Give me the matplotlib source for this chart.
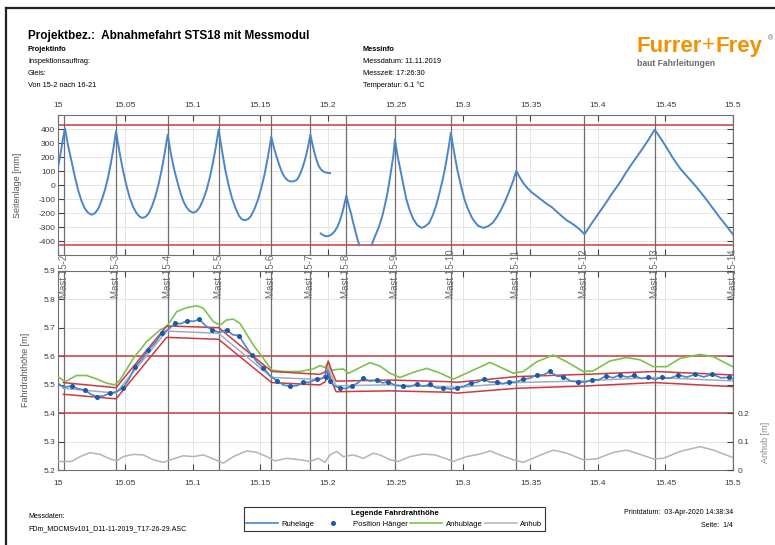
"""
Fahrdrahtmessung: Seitenlage und Fahrdrahthoehe, Abnahmefahrt STS18.
"""

import matplotlib

matplotlib.use("Agg")
import matplotlib.pyplot as plt
import numpy as np
from matplotlib.lines import Line2D

plt.rcParams["font.family"] = ["Liberation Sans", "DejaVu Sans"]
plt.rcParams["axes.unicode_minus"] = False

nan = np.nan

# --- data -------------------------------------------------------------------
km_ticks = [15.0, 15.05, 15.1, 15.15, 15.2, 15.25, 15.3, 15.35, 15.4, 15.45, 15.5]
km_labels = ["15", "15.05", "15.1", "15.15", "15.2", "15.25", "15.3", "15.35",
             "15.4", "15.45", "15.5"]

mast_km = [15.0047, 15.043, 15.0813, 15.119, 15.158, 15.187, 15.213, 15.250,
           15.291, 15.3395, 15.390, 15.442, 15.500]
mast_names = ["Mast 15-2", "Mast 15-3", "Mast 15-4", "Mast 15-5", "Mast 15-6",
              "Mast 15-7", "Mast 15-8", "Mast 15-9", "Mast 15-10", "Mast 15-11",
              "Mast 15-12", "Mast 15-13", "Mast 15-14"]

# Seitenlage [mm], nan = Messluecke
seite_km = [
    15.000, 15.002, 15.0035, 15.0052, 15.0075, 15.010, 15.0125, 15.015, 15.0175,
    15.020, 15.0225, 15.025, 15.0275, 15.030, 15.0325, 15.035, 15.037, 15.039,
    15.041, 15.043,
    15.0455, 15.048, 15.0505, 15.053, 15.0555, 15.058, 15.0605, 15.0627, 15.065,
    15.067, 15.0695, 15.072, 15.0745, 15.077, 15.079, 15.0813,
    15.0835, 15.086, 15.0885, 15.091, 15.093, 15.095, 15.0975, 15.1002, 15.1025,
    15.105, 15.1075, 15.110, 15.1125, 15.115, 15.117, 15.119,
    15.1215, 15.124, 15.1265, 15.129, 15.1315, 15.134, 15.136, 15.1385, 15.141,
    15.143, 15.1455, 15.148, 15.1505, 15.153, 15.1555, 15.158,
    15.160, 15.162, 15.164, 15.166, 15.168, 15.170, 15.1715, 15.173, 15.175,
    15.177, 15.179, 15.181, 15.1825, 15.184, 15.1855, 15.187,
    15.1885, 15.190, 15.1915, 15.193, 15.1945, 15.196, 15.1975, 15.199, 15.2015,
    nan,
    15.1946, 15.1965, 15.198, 15.1995, 15.201, 15.203, 15.205, 15.207, 15.209,
    15.211, 15.2136, 15.2155, 15.217, 15.2185, 15.220, 15.2215, 15.2232,
    nan,
    15.2323, 15.234, 15.236, 15.238, 15.240, 15.242, 15.244, 15.2455, 15.247,
    15.2485, 15.2496,
    15.2515, 15.254, 15.256, 15.258, 15.2605, 15.263, 15.266, 15.2694, 15.272,
    15.275, 15.2775, 15.280, 15.2825, 15.285, 15.2865, 15.288, 15.2895, 15.291,
    15.2935, 15.296, 15.2985, 15.301, 15.304, 15.307, 15.311, 15.315, 15.3185,
    15.322, 15.325, 15.328, 15.331, 15.334, 15.337, 15.3395,
    15.342, 15.345, 15.348, 15.3509, 15.356, 15.362, 15.366, 15.370, 15.3735,
    15.3768, 15.380, 15.383, 15.3865, 15.390,
    15.3935, 15.397, 15.401, 15.405, 15.4105, 15.4163, 15.4205, 15.425, 15.429,
    15.433, 15.4375, 15.442,
    15.446, 15.450, 15.455, 15.4607, 15.467, 15.4731, 15.480, 15.485, 15.490,
    15.495, 15.4998,
]
seite_mm = [
    120, 230, 320, 405, 280, 172, 60, -39, -115,
    -169, -200, -212, -200, -166, -105, -27, 50, 146,
    255, 384,
    240, 112, 5, -86, -152, -198, -226, -235, -226,
    -205, -155, -86, 5, 117, 225, 360,
    230, 114, 20, -64, -118, -156, -185, -198, -188,
    -159, -105, -38, 55, 170, 275, 395,
    245, 105, -5, -97, -165, -218, -243, -252, -242,
    -220, -172, -109, -25, 75, 200, 343,
    265, 200, 140, 90, 55, 35, 27, 25, 28,
    38, 70, 120, 165, 220, 285, 360,
    290, 230, 180, 140, 115, 100, 92, 88, 85,
    nan,
    -346, -358, -365, -366, -362, -350, -330, -298, -250,
    -185, -75, -150, -200, -262, -320, -375, -430,
    nan,
    -430, -385, -340, -290, -230, -150, -60, 25, 120,
    215, 325,
    210, 90, -10, -100, -180, -240, -285, -306, -295,
    -270, -218, -150, -60, 40, 110, 190, 275, 372,
    230, 100, -5, -100, -180, -240, -290, -306, -295,
    -270, -230, -180, -120, -50, 25, 101,
    55, 10, -25, -52, -90, -134, -160, -195, -225,
    -252, -270, -290, -318, -351,
    -300, -250, -195, -140, -60, 19, 85, 150, 205,
    260, 325, 395,
    340, 280, 200, 120, 50, -16, -100, -165, -230,
    -290, -351,
]
seite_limit = 430

# Ruhelage [m]
ruhe_km = [
    15.000, 15.004, 15.0101, 15.015, 15.0200, 15.0243, 15.0286, 15.0335, 15.0385,
    15.0435, 15.0484, 15.0527, 15.0570, 15.0620, 15.0669, 15.0718, 15.0768,
    15.0817, 15.0867, 15.0912, 15.0958, 15.1002, 15.1047, 15.1095, 15.1143,
    15.1196, 15.1249, 15.1295, 15.1341, 15.1388, 15.1435, 15.1478, 15.1521,
    15.1573, 15.1625, 15.1672, 15.1719, 15.1768, 15.1817, 15.1866, 15.1916,
    15.1960, 15.1998, 15.2015, 15.2050, 15.2089, 15.2132, 15.2175, 15.2218,
    15.2262, 15.2311, 15.2360, 15.2404, 15.2447, 15.2500, 15.2553, 15.2605,
    15.2657, 15.2706, 15.2756, 15.2805, 15.2854, 15.2906, 15.2958, 15.3007,
    15.3057, 15.3106, 15.3156, 15.3202, 15.3249, 15.3296, 15.3343, 15.3392,
    15.3442, 15.3494, 15.3546, 15.3595, 15.3644, 15.3693, 15.3743, 15.3798,
    15.3854, 15.3903, 15.3953, 15.4006, 15.4059, 15.4111, 15.4163, 15.4215,
    15.4267, 15.4320, 15.4373, 15.4422, 15.4472, 15.4533, 15.4595, 15.4657,
    15.4719, 15.4783, 15.4847, 15.4910, 15.4973, 15.500,
]
ruhe_m = [
    5.505, 5.490, 5.495, 5.485, 5.481, 5.466, 5.458, 5.460, 5.470,
    5.475, 5.489, 5.520, 5.563, 5.588, 5.622, 5.646, 5.680,
    5.694, 5.715, 5.714, 5.725, 5.722, 5.729, 5.706, 5.692,
    5.683, 5.692, 5.675, 5.672, 5.636, 5.604, 5.577, 5.560,
    5.530, 5.513, 5.498, 5.495, 5.496, 5.508, 5.508, 5.520,
    5.522, 5.550, 5.512, 5.494, 5.489, 5.486, 5.495, 5.505,
    5.522, 5.512, 5.516, 5.506, 5.510, 5.497, 5.495, 5.493,
    5.501, 5.494, 5.501, 5.488, 5.489, 5.484, 5.489, 5.494,
    5.505, 5.508, 5.520, 5.508, 5.510, 5.503, 5.510, 5.508,
    5.519, 5.522, 5.534, 5.534, 5.546, 5.530, 5.528, 5.512,
    5.510, 5.508, 5.516, 5.517, 5.530, 5.524, 5.534, 5.526,
    5.532, 5.521, 5.525, 5.518, 5.525, 5.522, 5.534, 5.526,
    5.536, 5.527, 5.536, 5.524, 5.525, 5.520,
]

# Position Haenger [m]
haenger_km = [
    15.0101, 15.0200, 15.0286, 15.0385, 15.0484, 15.0570, 15.0669, 15.0768,
    15.0867, 15.0958, 15.1047, 15.1143, 15.1249, 15.1341, 15.1435, 15.1521,
    15.1625, 15.1719, 15.1817, 15.1916, 15.1985, 15.2015, 15.2089, 15.2175,
    15.2262, 15.2360, 15.2447, 15.2553, 15.2657, 15.2756, 15.2854, 15.2958,
    15.3057, 15.3156, 15.3249, 15.3343, 15.3442, 15.3546, 15.3644, 15.3743,
    15.3854, 15.3953, 15.4059, 15.4163, 15.4267, 15.4373, 15.4472, 15.4595,
    15.4719, 15.4847, 15.4973,
]
haenger_m = [
    5.495, 5.481, 5.458, 5.470, 5.489, 5.563, 5.622, 5.680,
    5.715, 5.725, 5.729, 5.692, 5.692, 5.672, 5.604, 5.560,
    5.513, 5.495, 5.508, 5.520, 5.527, 5.512, 5.489, 5.495,
    5.522, 5.516, 5.510, 5.495, 5.501, 5.501, 5.489, 5.489,
    5.505, 5.520, 5.510, 5.510, 5.519, 5.534, 5.546, 5.528,
    5.510, 5.516, 5.530, 5.534, 5.532, 5.525, 5.525, 5.534,
    5.536, 5.536, 5.525,
]

# Sollhoehe mit Toleranzband [m]
soll_km = [15.004, 15.043, 15.0805, 15.119, 15.1583, 15.194, 15.198, 15.2002,
           15.2027, 15.206, 15.2459, 15.291, 15.2955, 15.3395, 15.390, 15.442,
           15.4998]
soll_ober_m = [5.507, 5.489, 5.706, 5.700, 5.546, 5.536, 5.545, 5.583,
               5.548, 5.512, 5.516, 5.510, 5.508, 5.528, 5.536, 5.546, 5.534]
soll_m = [5.487, 5.470, 5.688, 5.680, 5.525, 5.518, 5.528, 5.563,
          5.530, 5.496, 5.499, 5.491, 5.490, 5.507, 5.513, 5.525, 5.513]
soll_unter_m = [5.466, 5.450, 5.666, 5.659, 5.507, 5.499, 5.510, 5.546,
                5.512, 5.475, 5.478, 5.473, 5.470, 5.487, 5.495, 5.507, 5.493]
hoehe_limits = [5.4, 5.6]

# Anhublage [m]
anhublage_km = [
    15.000, 15.0052, 15.0138, 15.0212, 15.0286, 15.0360, 15.0422, 15.0459,
    15.0558, 15.0657, 15.0756, 15.0805, 15.0879, 15.0953, 15.1027, 15.1077,
    15.1151, 15.1200, 15.1249, 15.1299, 15.1348, 15.1447, 15.1521, 15.1583,
    15.1669, 15.1793, 15.1891, 15.1941, 15.1978, 15.2002, 15.2027, 15.2064,
    15.2114, 15.2151, 15.2188, 15.2237, 15.2311, 15.2385, 15.2459, 15.2533,
    15.2632, 15.2731, 15.2817, 15.2928, 15.3027, 15.3200, 15.3373, 15.3447,
    15.3546, 15.3669, 15.3768, 15.3891, 15.3965, 15.4089, 15.4212, 15.4311,
    15.4410, 15.4509, 15.4607, 15.4756, 15.4854, 15.4998,
]
anhublage_m = [
    5.528, 5.510, 5.532, 5.532, 5.520, 5.505, 5.499, 5.516,
    5.592, 5.651, 5.692, 5.703, 5.756, 5.770, 5.777, 5.768,
    5.721, 5.709, 5.727, 5.730, 5.715, 5.639, 5.592, 5.551,
    5.546, 5.546, 5.555, 5.567, 5.560, 5.578, 5.551, 5.553,
    5.555, 5.540, 5.548, 5.560, 5.577, 5.565, 5.540, 5.525,
    5.543, 5.557, 5.543, 5.519, 5.540, 5.578, 5.540, 5.546,
    5.580, 5.604, 5.580, 5.546, 5.548, 5.583, 5.595, 5.587,
    5.563, 5.563, 5.592, 5.606, 5.598, 5.563,
]

# Anhub [m] (rechte Achse)
anhub_km = [
    15.000, 15.0101, 15.0163, 15.0237, 15.0311, 15.0385, 15.0435, 15.0484,
    15.0558, 15.0632, 15.0706, 15.0780, 15.0854, 15.0928, 15.1002, 15.1077,
    15.1151, 15.1225, 15.1299, 15.1398, 15.1472, 15.1546, 15.1607, 15.1694,
    15.1793, 15.1867, 15.1928, 15.1978, 15.2015, 15.2064, 15.2114, 15.2188,
    15.2262, 15.2336, 15.2385, 15.2459, 15.2521, 15.2607, 15.2706, 15.2793,
    15.2879, 15.2928, 15.3027, 15.3126, 15.3200, 15.3274, 15.3373, 15.3447,
    15.3546, 15.3669, 15.3768, 15.3891, 15.3990, 15.4114, 15.4212, 15.4311,
    15.4410, 15.4484, 15.4607, 15.4756, 15.4854, 15.4998,
]
anhub_m = [
    0.030, 0.030, 0.047, 0.061, 0.055, 0.039, 0.032, 0.047,
    0.055, 0.053, 0.036, 0.027, 0.039, 0.050, 0.047, 0.053,
    0.039, 0.024, 0.047, 0.067, 0.062, 0.047, 0.032, 0.041,
    0.036, 0.030, 0.041, 0.027, 0.053, 0.065, 0.047, 0.053,
    0.041, 0.059, 0.053, 0.036, 0.030, 0.047, 0.056, 0.053,
    0.039, 0.030, 0.047, 0.056, 0.067, 0.053, 0.036, 0.027,
    0.047, 0.070, 0.059, 0.036, 0.039, 0.062, 0.070, 0.055,
    0.039, 0.041, 0.065, 0.082, 0.070, 0.044,
]

# --- styles -----------------------------------------------------------------
BLUE = "#4a86c8"
DOT_BLUE = "#1f5aa6"
RED = "#cc3b3f"
GREEN = "#7cc24e"
GREY_LINE = "#b4b4b4"
SOLL = "#9fadbf"
MAST = "#6e6e6e"
GRID = "#e4e4e4"
SPINE = "#707070"
TICK_TXT = "#3a3a3a"
ORANGE = "#f39200"


def style_axis(ax, labeltop=False):
    """Common look: inward ticks on all sides, light grid, grey frame."""
    for spine in ax.spines.values():
        spine.set_color(SPINE)
        spine.set_linewidth(0.8)
    ax.set_xlim(15.0, 15.5)
    ax.set_xticks(km_ticks)
    ax.set_xticklabels(km_labels)
    ax.tick_params(axis="both", direction="in", length=4, width=0.8,
                   color="#444444", labelsize=6, labelcolor=TICK_TXT,
                   top=True, bottom=True, left=True, right=True)
    ax.tick_params(axis="x", labeltop=labeltop, labelbottom=not labeltop,
                   pad=4 if labeltop else 7)
    ax.tick_params(axis="y", pad=2)
    ax.grid(True, color=GRID, lw=0.7)
    ax.set_axisbelow(True)
    for km in mast_km:
        ax.axvline(km, color=MAST, lw=0.9, zorder=1.5)


fig = plt.figure(figsize=(7.75, 5.45), dpi=100)
fig.patch.set_facecolor("white")

# outer frame (left and top edge visible)
fig.add_artist(Line2D([0.0074, 0.0074], [0.0, 0.985], transform=fig.transFigure,
                      color="#222222", lw=1.6))
fig.add_artist(Line2D([0.0074, 1.0], [0.985, 0.985], transform=fig.transFigure,
                      color="#222222", lw=1.6))

# --- header -----------------------------------------------------------------
fig.text(0.036, 0.934, "Projektbez.:  Abnahmefahrt STS18 mit Messmodul",
         fontsize=8.5, fontweight="bold", va="center")
small = dict(fontsize=5.3, va="center")
fig.text(0.036, 0.909, "Projektinfo", fontweight="bold", **small)
fig.text(0.036, 0.887, "Inspektionsauftrag:", **small)
fig.text(0.036, 0.866, "Gleis:", **small)
fig.text(0.036, 0.843, "Von 15-2 nach 16-21", **small)
fig.text(0.468, 0.909, "Messinfo", fontweight="bold", **small)
fig.text(0.468, 0.887, "Messdatum: 11.11.2019", **small)
fig.text(0.468, 0.865, "Messzeit: 17:26:30", **small)
fig.text(0.468, 0.843, "Temperatur: 6.1 °C", **small)

# logo
fig.text(0.905, 0.915, "Furrer", fontsize=16, fontweight="bold", color=ORANGE,
         ha="right", va="center")
fig.text(0.914, 0.917, "+", fontsize=16, fontweight="light", color=ORANGE,
         ha="center", va="center")
fig.text(0.923, 0.915, "Frey", fontsize=16, fontweight="bold", color=ORANGE,
         ha="left", va="center")
fig.text(0.994, 0.928, "®", fontsize=5, color="#666666", ha="center", va="center")
fig.text(0.822, 0.884, "baut Fahrleitungen", fontsize=6.2, fontweight="bold",
         color="#6a6a6a", va="center")

# --- Seitenlage -------------------------------------------------------------
ax_top = fig.add_axes([0.0748, 0.532, 0.871, 0.257])
style_axis(ax_top, labeltop=True)
ax_top.set_ylim(-500, 500)
ax_top.set_yticks(np.arange(-400, 401, 100))
for lim in (seite_limit, -seite_limit):
    ax_top.axhline(lim, color=RED, lw=1.1, zorder=2)
ax_top.plot(seite_km, seite_mm, color=BLUE, lw=1.4, zorder=3)
ax_top.set_ylabel("Seitenlage [mm]", fontsize=6.5, color="#555555")
ax_top.yaxis.set_label_coords(-0.053, 0.5)

# --- Fahrdrahthoehe ---------------------------------------------------------
ax_bot = fig.add_axes([0.0748, 0.1376, 0.871, 0.3657])
style_axis(ax_bot)
ax_bot.set_ylim(5.2, 5.9)
ax_bot.set_yticks(np.arange(5.2, 5.91, 0.1))
ax_bot.tick_params(axis="y", right=False)
for lim in hoehe_limits:
    ax_bot.axhline(lim, color=RED, lw=1.1, zorder=2)
ax_bot.plot(anhublage_km, anhublage_m, color=GREEN, lw=1.2, zorder=3)
ax_bot.plot(soll_km, soll_ober_m, color=RED, lw=1.1, zorder=3)
ax_bot.plot(soll_km, soll_unter_m, color=RED, lw=1.1, zorder=3)
ax_bot.plot(soll_km, soll_m, color=SOLL, lw=1.1, zorder=3)
ax_bot.plot(ruhe_km, ruhe_m, color=BLUE, lw=1.2, zorder=4)
ax_bot.plot(haenger_km, haenger_m, ls="none", marker="o", ms=2.6,
            color=DOT_BLUE, zorder=5)
ax_bot.set_ylabel("Fahrdrahthöhe [m]", fontsize=6.5, color="#555555")
ax_bot.yaxis.set_label_coords(-0.041, 0.5)

for km, name in zip(mast_km, mast_names):
    ax_bot.text(km, 5.804, name, rotation=90, fontsize=7, color="#6a6a6a",
                ha="center", va="bottom", clip_on=False, zorder=6)

ax_anhub = ax_bot.twinx()
ax_anhub.set_ylim(0, 0.7)
ax_anhub.set_yticks(np.arange(0, 0.71, 0.1))
ax_anhub.set_yticklabels(["0", "0.1", "0.2", "", "", "", "", ""])
ax_anhub.tick_params(axis="y", direction="in", length=4, width=0.8,
                     color="#444444", labelsize=6, labelcolor=TICK_TXT, pad=3)
for spine in ax_anhub.spines.values():
    spine.set_visible(False)
ax_anhub.plot(anhub_km, anhub_m, color=GREY_LINE, lw=1.1)
ax_anhub.set_ylabel("Anhub [m]", fontsize=6.5, color="#888888")
ax_anhub.yaxis.set_label_coords(1.042, 0.14)

# --- footer -----------------------------------------------------------------
fig.text(0.036, 0.052, "Messdaten:", fontsize=5, va="center")
fig.text(0.036, 0.030, "FDm_MDCMSv101_D11-11-2019_T17-26-29.ASC", fontsize=5,
         va="center")
fig.text(0.946, 0.060, "Printdatum:  03-Apr-2020 14:38:34", fontsize=5,
         ha="right", va="center")
fig.text(0.946, 0.036, "Seite:  1/4", fontsize=5, ha="right", va="center")

handles = [
    Line2D([], [], color=BLUE, lw=1.2),
    Line2D([], [], ls="none", marker="o", ms=2.6, color=DOT_BLUE),
    Line2D([], [], color=GREEN, lw=1.2),
    Line2D([], [], color=GREY_LINE, lw=1.1),
]
leg = fig.legend(handles, ["Ruhelage", "Position Hänger", "Anhublage", "Anhub"],
                 loc="center", bbox_to_anchor=(0.509, 0.048), ncol=4,
                 title="Legende Fahrdrahthöhe",
                 title_fontproperties={"size": 5.5, "weight": "bold"},
                 fontsize=5.5, handlelength=4.2, handletextpad=0.4,
                 columnspacing=0.4, borderpad=0.35, borderaxespad=0.2,
                 fancybox=False, edgecolor="#333333", framealpha=1)
leg.get_frame().set_linewidth(0.8)

fig.canvas.draw()
renderer = fig.canvas.get_renderer()
inv = fig.transFigure.inverted()
leg_box = leg.get_window_extent(renderer).transformed(inv)
title_box = leg.get_title().get_window_extent(renderer).transformed(inv)
sep_y = title_box.y0 - 0.004
fig.add_artist(Line2D([leg_box.x0, leg_box.x1], [sep_y, sep_y],
                      transform=fig.transFigure, color="#333333", lw=0.8))

fig.savefig("out.png", dpi=100)
